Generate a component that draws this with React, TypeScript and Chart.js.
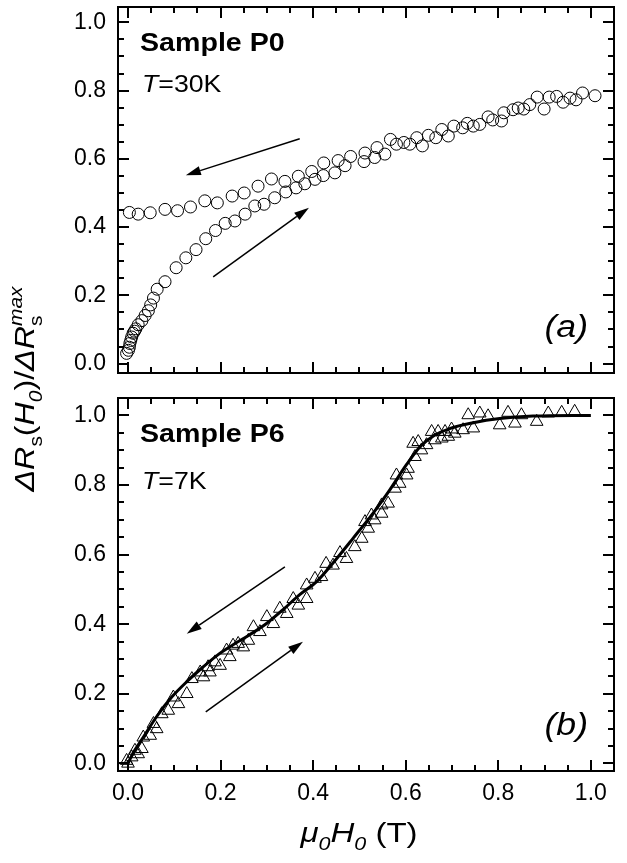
import React, { useEffect, useRef } from "react";
import { Chart, registerables } from "chart.js";
Chart.register(...registerables);

const FONT = '"Liberation Sans", Arial, Helvetica, sans-serif';

// ---------- data ----------
const X_MIN = -0.0216;
const X_MAX = 1.05;
const TOP_Y_MIN = -0.0275;
const TOP_Y_MAX = 1.045;
const BOT_Y_MIN = -0.0216;
const BOT_Y_MAX = 1.05;
const X_TICKS = [0.0, 0.2, 0.4, 0.6, 0.8, 1.0];
const Y_TICKS = [0.0, 0.2, 0.4, 0.6, 0.8, 1.0];

// Sample P0, T=30K, increasing field branch
const p0IncX = [-0.003, 0.001, 0.003, 0.004, 0.006, 0.008, 0.011, 0.014, 0.017, 0.022, 0.030, 0.037, 0.044, 0.049, 0.055, 0.063, 0.080, 0.104, 0.125, 0.147, 0.168, 0.189, 0.210, 0.231, 0.253, 0.274, 0.294, 0.317, 0.341, 0.363, 0.382, 0.404, 0.422, 0.447, 0.469, 0.510, 0.533, 0.555, 0.580, 0.609, 0.636, 0.665, 0.692, 0.723, 0.746, 0.778, 0.807, 0.832, 0.855, 0.899, 0.910, 0.940, 0.968];
const p0IncY = [0.030, 0.039, 0.048, 0.059, 0.068, 0.078, 0.089, 0.095, 0.102, 0.114, 0.126, 0.141, 0.155, 0.172, 0.192, 0.218, 0.240, 0.281, 0.310, 0.334, 0.366, 0.390, 0.411, 0.418, 0.438, 0.462, 0.467, 0.486, 0.503, 0.515, 0.527, 0.540, 0.551, 0.559, 0.580, 0.592, 0.604, 0.614, 0.643, 0.643, 0.638, 0.662, 0.667, 0.691, 0.696, 0.723, 0.711, 0.744, 0.746, 0.746, 0.781, 0.766, 0.773];
// Sample P0, decreasing field branch
const p0DecX = [0.003, 0.022, 0.048, 0.080, 0.107, 0.135, 0.166, 0.193, 0.225, 0.251, 0.281, 0.310, 0.339, 0.368, 0.397, 0.423, 0.454, 0.481, 0.512, 0.538, 0.567, 0.596, 0.624, 0.649, 0.678, 0.704, 0.733, 0.760, 0.788, 0.812, 0.843, 0.868, 0.884, 0.926, 0.955, 0.982, 1.009];
const p0DecY = [0.443, 0.438, 0.442, 0.452, 0.448, 0.459, 0.477, 0.471, 0.491, 0.500, 0.520, 0.541, 0.534, 0.549, 0.563, 0.588, 0.595, 0.607, 0.617, 0.633, 0.657, 0.648, 0.662, 0.669, 0.686, 0.696, 0.704, 0.701, 0.714, 0.735, 0.749, 0.759, 0.781, 0.783, 0.778, 0.793, 0.785];

// Sample P6, T=7K, increasing field branch
const p6IncX = [0.000, 0.008, 0.022, 0.030, 0.048, 0.062, 0.087, 0.109, 0.127, 0.163, 0.177, 0.199, 0.220, 0.249, 0.260, 0.285, 0.314, 0.343, 0.368, 0.386, 0.418, 0.443, 0.472, 0.490, 0.505, 0.519, 0.533, 0.548, 0.562, 0.577, 0.587, 0.602, 0.605, 0.620, 0.634, 0.645, 0.663, 0.678, 0.692, 0.706, 0.724, 0.746, 0.803, 0.836, 0.883];
const p6IncY = [0.000, 0.018, 0.027, 0.042, 0.080, 0.099, 0.152, 0.171, 0.200, 0.248, 0.262, 0.281, 0.306, 0.334, 0.353, 0.378, 0.401, 0.430, 0.454, 0.473, 0.536, 0.569, 0.588, 0.622, 0.646, 0.675, 0.699, 0.718, 0.747, 0.790, 0.804, 0.828, 0.847, 0.881, 0.900, 0.915, 0.929, 0.934, 0.939, 0.948, 0.958, 0.963, 0.972, 0.977, 0.982];
// Sample P6, decreasing field branch
const p6DecX = [-0.003, 0.015, 0.033, 0.055, 0.073, 0.098, 0.138, 0.156, 0.173, 0.188, 0.213, 0.227, 0.238, 0.271, 0.300, 0.328, 0.357, 0.386, 0.404, 0.428, 0.458, 0.512, 0.526, 0.548, 0.580, 0.616, 0.627, 0.656, 0.670, 0.685, 0.699, 0.735, 0.760, 0.778, 0.821, 0.850, 0.908, 0.937, 0.965];
const p6DecY = [0.008, 0.037, 0.075, 0.114, 0.142, 0.190, 0.243, 0.262, 0.277, 0.291, 0.325, 0.339, 0.344, 0.392, 0.421, 0.445, 0.473, 0.512, 0.531, 0.574, 0.605, 0.694, 0.713, 0.742, 0.828, 0.919, 0.924, 0.953, 0.953, 0.953, 0.960, 1.001, 1.006, 0.998, 1.008, 1.001, 1.006, 1.008, 1.011];
// Sample P6 fit curve
const fitX = [0.000, 0.011, 0.033, 0.062, 0.094, 0.127, 0.156, 0.192, 0.227, 0.263, 0.300, 0.335, 0.371, 0.408, 0.443, 0.487, 0.530, 0.566, 0.602, 0.631, 0.659, 0.695, 0.746, 0.803, 0.875, 1.000];
const fitY = [0.000, 0.030, 0.075, 0.135, 0.190, 0.235, 0.270, 0.310, 0.341, 0.370, 0.403, 0.442, 0.485, 0.523, 0.576, 0.648, 0.720, 0.787, 0.859, 0.910, 0.940, 0.962, 0.979, 0.991, 0.998, 1.000];

// arrows (data coordinates: [x1, y1, x2, y2], tip at x2,y2)
const topArrows = [
  [0.371, 0.659, 0.125, 0.552],
  [0.184, 0.254, 0.391, 0.457],
];
const botArrows = [
  [0.339, 0.565, 0.127, 0.373],
  [0.168, 0.148, 0.378, 0.350],
];

const topLabels = { sample: "Sample P0", temp: "=30K", panel: "(a)" };
const botLabels = { sample: "Sample P6", temp: "=7K", panel: "(b)" };

// ---------- helpers ----------
const pts = (xs: number[], ys: number[]) => xs.map((x, i) => ({ x, y: ys[i] }));

type Seg = { t: string; it?: boolean; b?: boolean; s: number; dy?: number; stay?: boolean };
const segFont = (g: Seg) => `${g.it ? "italic " : ""}${g.b ? "bold " : ""}${g.s}px ${FONT}`;

function richWidth(ctx: CanvasRenderingContext2D, segs: Seg[]) {
  let w = 0;
  let pend = 0;
  for (const g of segs) {
    ctx.font = segFont(g);
    const m = ctx.measureText(g.t).width;
    if (g.stay) {
      pend = m;
    } else {
      w += Math.max(m, pend);
      pend = 0;
    }
  }
  return w;
}

function drawRich(
  ctx: CanvasRenderingContext2D,
  segs: Seg[],
  x: number,
  y: number,
  align: "left" | "center" | "right",
  sx = 1
) {
  const w = richWidth(ctx, segs);
  ctx.save();
  ctx.translate(x, y);
  ctx.scale(sx, 1);
  let cx = align === "left" ? 0 : align === "center" ? -w / 2 : -w;
  ctx.textAlign = "left";
  ctx.textBaseline = "alphabetic";
  ctx.fillStyle = "#000";
  let pend = 0;
  for (const g of segs) {
    ctx.font = segFont(g);
    const m = ctx.measureText(g.t).width;
    ctx.fillText(g.t, cx, g.dy || 0);
    if (g.stay) {
      pend = m;
    } else {
      cx += Math.max(m, pend);
      pend = 0;
    }
  }
  ctx.restore();
}

function drawArrow(ctx: CanvasRenderingContext2D, x1: number, y1: number, x2: number, y2: number) {
  const ang = Math.atan2(y2 - y1, x2 - x1);
  const hl = 15;
  const hw = 4.5;
  const bx = x2 - hl * Math.cos(ang);
  const by = y2 - hl * Math.sin(ang);
  ctx.strokeStyle = "#000";
  ctx.fillStyle = "#000";
  ctx.lineWidth = 1.5;
  ctx.beginPath();
  ctx.moveTo(x1, y1);
  ctx.lineTo(bx, by);
  ctx.stroke();
  ctx.beginPath();
  ctx.moveTo(x2, y2);
  ctx.lineTo(bx + hw * Math.sin(ang), by - hw * Math.cos(ang));
  ctx.lineTo(bx - hw * Math.sin(ang), by + hw * Math.cos(ang));
  ctx.closePath();
  ctx.fill();
}

const framePlugin = {
  id: "frameTicks",
  afterDatasetsDraw(chart: any, _a: any, opts: any) {
    const ctx = chart.ctx as CanvasRenderingContext2D;
    const { left, right, top, bottom } = chart.chartArea;
    const xs = chart.scales.x;
    const ys = chart.scales.y;
    ctx.save();
    for (const a of opts.arrows || []) {
      drawArrow(ctx, xs.getPixelForValue(a[0]), ys.getPixelForValue(a[1]), xs.getPixelForValue(a[2]), ys.getPixelForValue(a[3]));
    }
    ctx.strokeStyle = "#000";
    ctx.lineWidth = 2;
    ctx.lineCap = "butt";
    const MAJ = 11;
    const MIN = 6;
    const step = 0.05;
    for (let k = Math.ceil(xs.min / step); k <= Math.floor(xs.max / step); k++) {
      const p = Math.round(xs.getPixelForValue(k * step));
      const L = k % 4 === 0 ? MAJ : MIN;
      ctx.beginPath();
      ctx.moveTo(p, bottom);
      ctx.lineTo(p, bottom - L);
      ctx.moveTo(p, top);
      ctx.lineTo(p, top + L);
      ctx.stroke();
    }
    for (let k = Math.ceil(ys.min / step); k <= Math.floor(ys.max / step); k++) {
      const p = Math.round(ys.getPixelForValue(k * step));
      const L = k % 4 === 0 ? MAJ : MIN;
      ctx.beginPath();
      ctx.moveTo(left, p);
      ctx.lineTo(left + L, p);
      ctx.moveTo(right, p);
      ctx.lineTo(right - L, p);
      ctx.stroke();
    }
    ctx.strokeRect(left, top, right - left, bottom - top);
    const lb = opts.labels;
    if (lb) {
      drawRich(ctx, [{ t: lb.sample, b: true, s: 26 }], left + 22, top + 44, "left", 1.1);
      drawRich(ctx, [{ t: "T", it: true, s: 23 }, { t: lb.temp, s: 23 }], left + 24, top + opts.tempDy, "left", 1.16);
      drawRich(ctx, [{ t: lb.panel, it: true, s: 31 }], right - 26, bottom - 36, "right", 1.15);
    }
    if (opts.titles) {
      const S = 28;
      drawRich(
        ctx,
        [
          { t: "\u03bc", it: true, s: S },
          { t: "0", it: true, s: S * 0.65, dy: S * 0.3 },
          { t: "H", it: true, s: S },
          { t: "0", it: true, s: S * 0.65, dy: S * 0.3 },
          { t: " (T)", s: S },
        ],
        359,
        842,
        "center",
        1.18
      );
      ctx.save();
      ctx.translate(34, 389);
      ctx.rotate(-Math.PI / 2);
      drawRich(
        ctx,
        [
          { t: "\u0394R", it: true, s: S },
          { t: "s", s: S * 0.65, dy: S * 0.3 },
          { t: "(", s: S },
          { t: "H", it: true, s: S },
          { t: "0", it: true, s: S * 0.65, dy: S * 0.3 },
          { t: ")/", s: S },
          { t: "\u0394R", it: true, s: S },
          { t: "s", s: S * 0.65, dy: S * 0.3, stay: true },
          { t: "max", it: true, s: S * 0.65, dy: -S * 0.42 },
        ],
        0,
        0,
        "center",
        1.15
      );
      ctx.restore();
    }
    ctx.restore();
  },
};

function makeConfig(opts: {
  datasets: any[];
  yMin: number;
  yMax: number;
  showX: boolean;
  padding: any;
  plug: any;
}) {
  const tickFont = { family: FONT, size: 23 };
  return {
    type: "scatter" as const,
    data: { datasets: opts.datasets },
    plugins: [framePlugin],
    options: {
      responsive: false,
      animation: false as const,
      events: [],
      layout: { padding: opts.padding },
      plugins: {
        legend: { display: false },
        tooltip: { enabled: false },
        frameTicks: opts.plug,
      },
      scales: {
        x: {
          type: "linear" as const,
          min: X_MIN,
          max: X_MAX,
          display: opts.showX,
          grid: { display: false, drawTicks: false },
          border: { display: false },
          ticks: {
            font: tickFont,
            color: "#000",
            padding: 9,
            maxRotation: 0,
            autoSkip: false,
            callback: (v: any) => Number(v).toFixed(1),
          },
          afterBuildTicks: (s: any) => {
            s.ticks = X_TICKS.map((v) => ({ value: v }));
          },
          afterFit: (s: any) => {
            s.height = opts.showX ? 92 : 0;
            s.paddingLeft = 0;
            s.paddingRight = 0;
            s.paddingTop = 0;
            s.paddingBottom = 0;
          },
        },
        y: {
          type: "linear" as const,
          min: opts.yMin,
          max: opts.yMax,
          grid: { display: false, drawTicks: false },
          border: { display: false },
          ticks: {
            font: tickFont,
            color: "#000",
            padding: 12,
            autoSkip: false,
            callback: (v: any) => Number(v).toFixed(1),
          },
          afterBuildTicks: (s: any) => {
            s.ticks = Y_TICKS.map((v) => ({ value: v }));
          },
          afterFit: (s: any) => {
            s.width = 118;
            s.paddingLeft = 0;
            s.paddingRight = 0;
            s.paddingTop = 0;
            s.paddingBottom = 0;
          },
        },
      },
    },
  };
}

export default function App() {
  const topRef = useRef<HTMLCanvasElement>(null);
  const botRef = useRef<HTMLCanvasElement>(null);

  useEffect(() => {
    const circle = {
      pointStyle: "circle",
      pointRadius: 6,
      borderColor: "#000",
      borderWidth: 1,
      backgroundColor: "rgba(0,0,0,0)",
      showLine: false,
    };
    const tri = {
      pointStyle: "triangle",
      pointRadius: 7.3,
      borderColor: "#000",
      borderWidth: 1,
      backgroundColor: "rgba(0,0,0,0)",
      showLine: false,
    };
    const top = new Chart(
      topRef.current!,
      makeConfig({
        datasets: [
          { label: "P0 increasing", data: pts(p0IncX, p0IncY), ...circle },
          { label: "P0 decreasing", data: pts(p0DecX, p0DecY), ...circle },
        ],
        yMin: TOP_Y_MIN,
        yMax: TOP_Y_MAX,
        showX: false,
        padding: { top: 3, left: 0, right: 13, bottom: 490 },
        plug: { arrows: topArrows, labels: topLabels, tempDy: 85 },
      }) as any
    );
    const bot = new Chart(
      botRef.current!,
      makeConfig({
        datasets: [
          {
            label: "fit",
            data: pts(fitX, fitY),
            showLine: true,
            pointRadius: 0,
            borderColor: "#000",
            borderWidth: 3,
            cubicInterpolationMode: "monotone",
          },
          { label: "P6 increasing", data: pts(p6IncX, p6IncY), ...tri },
          { label: "P6 decreasing", data: pts(p6DecX, p6DecY), ...tri },
        ],
        yMin: BOT_Y_MIN,
        yMax: BOT_Y_MAX,
        showX: true,
        padding: { top: 398, left: 0, right: 13, bottom: 0 },
        plug: { arrows: botArrows, labels: botLabels, tempDy: 91, titles: true },
      }) as any
    );
    return () => {
      top.destroy();
      bot.destroy();
    };
  }, []);

  const cs: React.CSSProperties = { position: "absolute", left: 0, top: 0, width: 627, height: 863 };
  return (
    <div style={{ position: "absolute", left: 0, top: 0, width: 627, height: 863, background: "#fff" }}>
      <canvas ref={botRef} width={627} height={863} style={cs} />
      <canvas ref={topRef} width={627} height={863} style={cs} />
    </div>
  );
}
